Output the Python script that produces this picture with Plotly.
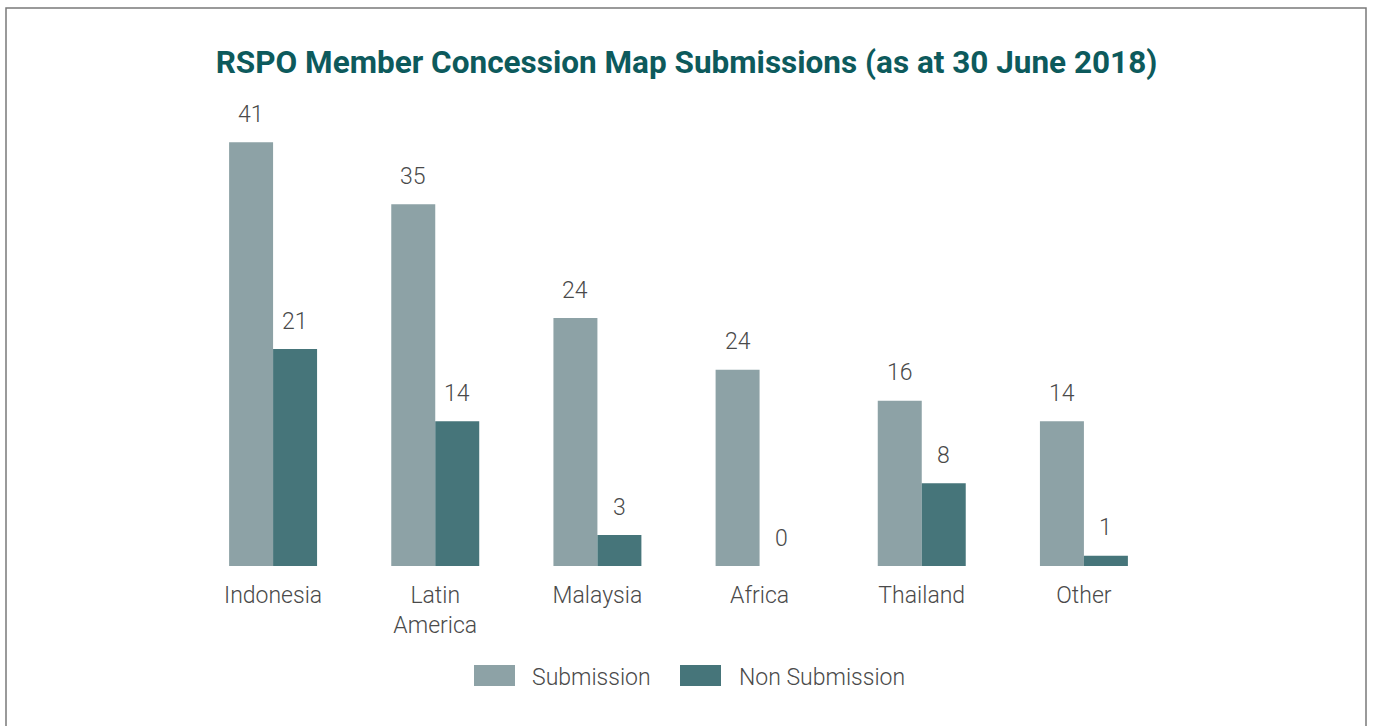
import plotly.graph_objects as go

# ---- data ----
regions = ["Indonesia", "Latin America", "Malaysia", "Africa", "Thailand", "Other"]
tick_labels = ["Indonesia", "Latin<br>America", "Malaysia", "Africa", "Thailand", "Other"]
series_names = ["Submission", "Non Submission"]
submission = [41, 35, 24, 19, 16, 14]          # bar heights as drawn
non_submission = [21, 14, 3, 0, 8, 1]
submission_labels = ["41", "35", "24", "24", "16", "14"]   # printed value labels
non_submission_labels = ["21", "14", "3", "0", "8", "1"]

# ---- styles ----
C_SUB = "#8da2a6"
C_NON = "#46757a"
TXT = "#4a4a4a"
TITLE_C = "#0d5a5c"
FONT = "Roboto"
FS = 23

W, H = 1373, 726
ML, MR, MT, MB = 192, 208, 101, 160
PW, PH = W - ML - MR, H - MT - MB


def px_x(p):
    return (p - ML) / PW


def px_y(p):
    return (H - MB - p) / PH


fig = go.Figure()
fig.add_trace(go.Bar(x=regions, y=submission, name=series_names[0],
                     marker=dict(color=C_SUB, line=dict(width=0)), showlegend=False))
fig.add_trace(go.Bar(x=regions, y=non_submission, name=series_names[1],
                     marker=dict(color=C_NON, line=dict(width=0)), showlegend=False))

annotations = []
for vals, labs, dx in ((submission, submission_labels, -22), (non_submission, non_submission_labels, 22)):
    for r, v, t in zip(regions, vals, labs):
        annotations.append(dict(x=r, y=v, xref="x", yref="y", text=t, showarrow=False,
                                xshift=dx, yshift=28, yanchor="middle",
                                font=dict(family=FONT, size=FS, color=TXT, weight=300)))

# manual legend
shapes = []
leg_sw = [(474, 515), (680, 721)]
leg_tx = [530, 737]
for (a, b), tx, name, col in zip(leg_sw, leg_tx, series_names, [C_SUB, C_NON]):
    shapes.append(dict(type="rect", xref="paper", yref="paper", x0=px_x(a), x1=px_x(b),
                       y0=px_y(686), y1=px_y(665), fillcolor=col, line=dict(width=0)))
    annotations.append(dict(x=px_x(tx), y=px_y(677), xref="paper", yref="paper", text=name,
                            showarrow=False, xanchor="left", yanchor="middle",
                            font=dict(family=FONT, size=FS, color=TXT, weight=300)))

# outer border
shapes.append(dict(type="rect", xref="paper", yref="paper", x0=px_x(6), x1=px_x(1366),
                   y0=px_y(760), y1=px_y(8), line=dict(color="#7a7a7a", width=1.5),
                   fillcolor="rgba(0,0,0,0)", layer="below"))

fig.update_layout(
    width=W, height=H,
    margin=dict(l=ML, r=MR, t=MT, b=MB),
    paper_bgcolor="white", plot_bgcolor="white",
    barmode="group", bargap=0.4575, bargroupgap=0,
    title=dict(text="<b>RSPO Member Concession Map Submissions (as at 30 June 2018)</b>",
               x=0.5, xref="container", xanchor="center",
               y=1 - 62 / H, yref="container", yanchor="middle",
               font=dict(family=FONT, size=31.5, color=TITLE_C)),
    xaxis=dict(type="category", tickvals=regions, ticktext=tick_labels,
               showgrid=False, zeroline=False, showline=False, ticks="",
               ticklabelstandoff=13,
               tickfont=dict(family=FONT, size=FS, color=TXT, weight=300)),
    yaxis=dict(range=[0, 45], visible=False, showgrid=False, zeroline=False),
    annotations=annotations,
    shapes=shapes,
    showlegend=False,
)

fig.write_html("out.html", config={"displayModeBar": False},
               post_script="document.body.style.margin='0';document.body.style.overflow='hidden';")
